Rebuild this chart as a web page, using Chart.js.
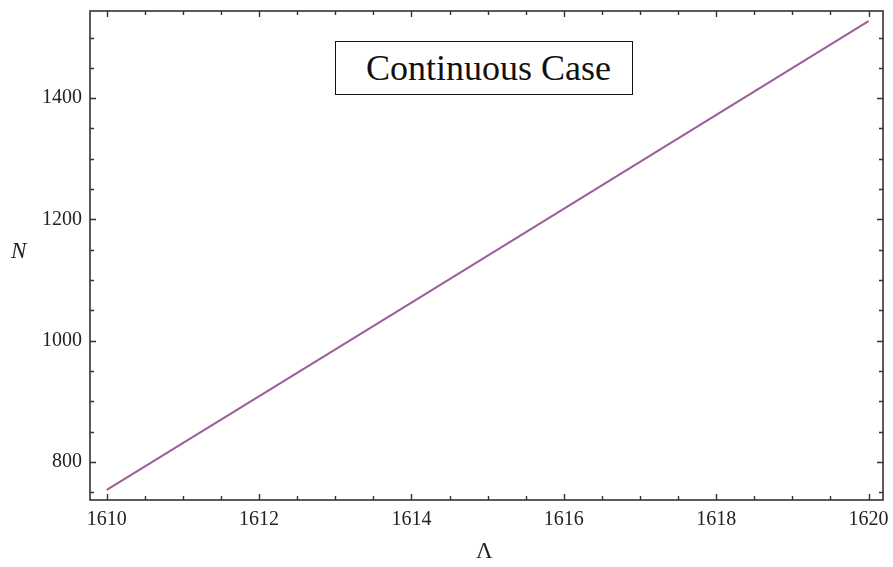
<!DOCTYPE html>
<html>
<head>
<meta charset="utf-8">
<script src="https://cdn.jsdelivr.net/npm/chart.js@4.4.0/dist/chart.umd.min.js"></script>
<style>
  html, body { margin: 0; padding: 0; background: #fff; }
  #wrap { position: relative; width: 893px; height: 567px; }
  #grafico { position: absolute; left: 0; top: 0; }
  .caja {
    position: absolute; left: 335px; top: 41px; width: 298px; height: 54px;
    border: 1.5px solid #111; box-sizing: border-box; background: #fff;
    font-family: "Liberation Serif", "DejaVu Serif", serif; font-size: 36px;
    line-height: 52px; padding-left: 30px; color: #111; white-space: nowrap;
  }
  .etiq { position: absolute; font-family: "Liberation Serif", "DejaVu Serif", serif; color: #222; }
  #ejeY { left: 11px; top: 238px; font-size: 23px; font-style: italic; }
  #ejeX { left: 476px; top: 538px; font-size: 23px; }
</style>
</head>
<body>
<div id="wrap">
  <canvas id="grafico" width="893" height="567"></canvas>
  <div class="caja">Continuous Case</div>
  <div class="etiq" id="ejeY">N</div>
  <div class="etiq" id="ejeX">Λ</div>
</div>
<script>
// valores
const lambdas = [1610, 1614, 1620];
const valoresN = [754, 1063, 1527];
const ticksX = [1610, 1612, 1614, 1616, 1618, 1620];
const ticksY = [800, 1000, 1200, 1400];

const puntos = lambdas.map((l, i) => ({ x: l, y: valoresN[i] }));

// marco con marcas hacia adentro en los cuatro lados
const marco = {
    id: 'marco',
    afterDraw(chart) {
        const { ctx, chartArea: a, scales } = chart;
        const sx = scales.x, sy = scales.y;
        ctx.save();
        ctx.strokeStyle = '#333';
        ctx.lineWidth = 1.6;
        ctx.strokeRect(a.left, a.top, a.right - a.left, a.bottom - a.top);
        ctx.lineWidth = 1.4;
        ctx.beginPath();
        for (let v = 1610; v <= 1620.001; v += 0.5) {
            const px = Math.round(sx.getPixelForValue(v)) + 0.5;
            const len = (Math.abs(v % 2) < 0.01) ? 6 : 4;
            ctx.moveTo(px, a.bottom); ctx.lineTo(px, a.bottom - len);
            ctx.moveTo(px, a.top); ctx.lineTo(px, a.top + len);
        }
        for (let v = 750; v <= 1500; v += 50) {
            const py = Math.round(sy.getPixelForValue(v)) + 0.5;
            const len = (v % 200 === 0) ? 6 : 4;
            ctx.moveTo(a.left, py); ctx.lineTo(a.left + len, py);
            ctx.moveTo(a.right, py); ctx.lineTo(a.right - len, py);
        }
        ctx.stroke();
        ctx.restore();
    }
};

const ctx = document.getElementById('grafico').getContext('2d');
const grafico = new Chart(ctx, {
    type: 'scatter',
    data: {
        datasets: [{
            data: puntos,
            showLine: true,
            borderColor: '#9c5e9a',
            borderWidth: 2,
            pointRadius: 0,
            fill: false
        }]
    },
    options: {
        responsive: false,
        animation: false,
        layout: { padding: { top: 11, right: 10, left: 0, bottom: 0 } },
        plugins: { legend: { display: false }, tooltip: { enabled: false } },
        scales: {
            x: {
                type: 'linear',
                min: 1609.78,
                max: 1620.19,
                afterBuildTicks: s => { s.ticks = ticksX.map(v => ({ value: v })); },
                afterFit: s => { s.height = 67; s.paddingLeft = 0; s.paddingRight = 0; },
                grid: { display: false, drawTicks: false },
                border: { display: false },
                ticks: {
                    padding: 8,
                    color: '#222',
                    maxRotation: 0,
                    callback: v => String(v),
                    font: { family: 'Liberation Serif', size: 20 }
                }
            },
            y: {
                type: 'linear',
                min: 737.4,
                max: 1543.7,
                afterBuildTicks: s => { s.ticks = ticksY.map(v => ({ value: v })); },
                afterFit: s => { s.width = 90; s.paddingTop = 0; s.paddingBottom = 0; },
                grid: { display: false, drawTicks: false },
                border: { display: false },
                ticks: {
                    padding: 8,
                    color: '#222',
                    callback: v => String(v),
                    font: { family: 'Liberation Serif', size: 20 }
                }
            }
        }
    },
    plugins: [marco]
});
</script>
</body>
</html>
